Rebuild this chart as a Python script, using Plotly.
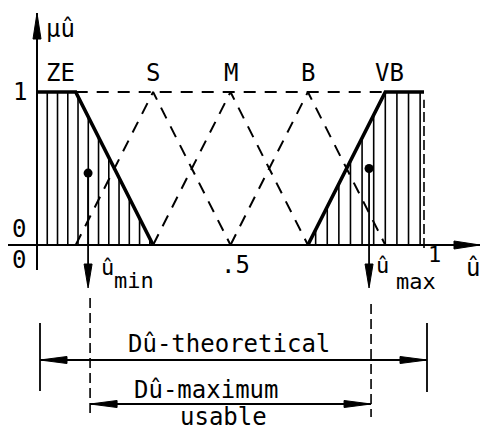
import plotly.graph_objects as go

# Fuzzy sets of the normalised output û
set_names = ["ZE", "S", "M", "B", "VB"]
ze_x = [0.0, 0.1, 0.3]
ze_mu = [1.0, 1.0, 0.0]
vb_x = [0.7, 0.9, 1.0]
vb_mu = [0.0, 1.0, 1.0]
tri_peaks = [0.3, 0.5, 0.7]          # S, M, B
tri_half_width = 0.2
label_x = [0.06, 0.3, 0.5, 0.7, 0.91]

# Centroids of the outer sets -> usable output range
u_min, mu_min = 0.132, 0.47
u_max, mu_max = 0.858, 0.50

tick_vals = [0.5, 1.0]
tick_text = [".5", "1"]

# ---- canvas / scale -------------------------------------------------------
W, H = 481, 429
SX, SY = 387.0, 153.0        # pixels per unit on x and y
OX, OY = 37.0, 245.0         # pixel position of the origin
x_range = [-OX / SX, (W - OX) / SX]
y_range = [-(H - OY) / SY, OY / SY]

FONT = "DejaVu Sans Mono"
BLACK = "black"

fig = go.Figure()


def line(xs, ys, width=2.0, dash=None, color=BLACK):
    fig.add_trace(go.Scatter(
        x=xs, y=ys, mode="lines",
        line=dict(color=color, width=width, dash=dash),
        hoverinfo="skip", showlegend=False))


def arrowhead(x, y, direction, length=24, width=7):
    """Filled triangular arrowhead with its tip at (x, y)."""
    L = length
    w = width / 2.0
    if direction == "down":
        xs = [x, x - w / SX, x + w / SX, x]
        ys = [y, y + L / SY, y + L / SY, y]
    elif direction == "up":
        xs = [x, x - w / SX, x + w / SX, x]
        ys = [y, y - L / SY, y - L / SY, y]
    elif direction == "left":
        xs = [x, x + L / SX, x + L / SX, x]
        ys = [y, y + w / SY, y - w / SY, y]
    else:
        xs = [x, x - L / SX, x - L / SX, x]
        ys = [y, y + w / SY, y - w / SY, y]
    fig.add_trace(go.Scatter(
        x=xs, y=ys, mode="lines", fill="toself", fillcolor=BLACK,
        line=dict(color=BLACK, width=1),
        hoverinfo="skip", showlegend=False))


def mu_ze(x):
    if x <= ze_x[1]:
        return 1.0
    return max(0.0, (ze_x[2] - x) / (ze_x[2] - ze_x[1]))


def mu_vb(x):
    if x >= vb_x[1]:
        return 1.0
    return max(0.0, (x - vb_x[0]) / (vb_x[1] - vb_x[0]))


# ---- hatching under ZE and VB --------------------------------------------
hx, hy = [], []
k = 1
while k * 0.0265 < ze_x[2]:
    xv = k * 0.0265
    hx += [xv, xv, None]
    hy += [0, mu_ze(xv), None]
    k += 1
k = 0
while 0.99 - k * 0.03 > vb_x[0]:
    xv = 0.99 - k * 0.03
    hx += [xv, xv, None]
    hy += [0, mu_vb(xv), None]
    k += 1
line(hx, hy, width=1.6)
# broken edge of the hatched VB area
line([vb_x[2], vb_x[2]], [-0.02, 0.95], width=1.6, dash="10px,4px")

# ---- dashed triangles S, M, B and the dashed top line ------------------
tx, ty = [], []
for p in tri_peaks:
    tx += [p - tri_half_width, p, p + tri_half_width, None]
    ty += [0, 1, 0, None]
line(tx, ty, width=2.0, dash="12px,9px")
line([ze_x[1], vb_x[1]], [1, 1], width=2.0, dash="12px,9px")

# ---- outer sets ZE and VB (bold) ----------------------------------------
line(ze_x, ze_mu, width=3.6)
line(vb_x, vb_mu, width=3.6)

# ---- axes ----------------------------------------------------------------
line([0, 0], [-25 / SY, (OY - 13) / SY], width=2.0)
arrowhead(0, (OY - 13) / SY, "up", length=26, width=8)
line([-29 / SX, (480 - OX) / SX], [0, 0], width=2.0)
arrowhead((480 - OX) / SX, 0, "right", length=26, width=8)

# ---- û_min / û_max markers ----------------------------------------------
for u, m in [(u_min, mu_min), (u_max, mu_max)]:
    line([u, u], [m, -40 / SY], width=1.8)
    arrowhead(u, -43 / SY, "down", length=24, width=8)
    fig.add_trace(go.Scatter(
        x=[u], y=[m], mode="markers",
        marker=dict(color=BLACK, size=9),
        hoverinfo="skip", showlegend=False))

# ---- range dimensions -------------------------------------------------------
y_theo = -(360 - OY) / SY
y_use = -(404 - OY) / SY
off = 3 / SX
x_lo, x_hi = 0 + off, 1 + off
line([x_lo, x_lo], [-(323 - OY) / SY, -(391 - OY) / SY], width=1.8)
line([x_hi, x_hi], [-(323 - OY) / SY, -(392 - OY) / SY], width=1.8)
line([x_lo, x_hi], [y_theo, y_theo], width=1.8)
arrowhead(x_lo, y_theo, "left", length=27, width=7)
arrowhead(x_hi, y_theo, "right", length=27, width=7)

ux_lo, ux_hi = u_min + 2 / SX, u_max + 2 / SX
line([ux_lo, ux_lo], [-(298 - OY) / SY, -(415 - OY) / SY], width=1.6, dash="10px,5px")
line([ux_hi, ux_hi], [-(304 - OY) / SY, -(417 - OY) / SY], width=1.6, dash="10px,5px")
line([ux_lo, ux_hi], [y_use, y_use], width=1.8)
arrowhead(ux_lo, y_use, "left", length=27, width=7)
arrowhead(ux_hi, y_use, "right", length=27, width=7)

# ---- text ------------------------------------------------------------------
ann = []


def text(x, y, s, size=24, yanchor="middle", yshift=0):
    ann.append(dict(x=x, y=y, xref="x", yref="y", text=s, showarrow=False,
                    xanchor="center", yanchor=yanchor, yshift=yshift,
                    font=dict(family=FONT, size=size, color=BLACK)))


for name, lx in zip(set_names, label_x):
    text(lx, 1.124, name)
text(-0.044, 1.0, "1")
text(-0.047, 0.105, "0")
text(-0.047, -0.098, "0")
text(tick_vals[0] + 0.014, -0.13, tick_text[0])
text(tick_vals[1] + 0.028, -0.06, tick_text[1], size=22)
text(1.127, -0.15, "û")
text(0.062, 1.41, "μû")
text(u_min + 0.049, -0.15, "û", size=22)
text(u_min + 0.119, -0.232, "min", size=22)
text(u_max + 0.036, -0.137, "û", size=22)
text(u_max + 0.122, -0.24, "max", size=22)
text(0.496, -0.647, "Dû-theoretical")
text(0.437, -0.948, "Dû-maximum")
text(0.481, -(420 - OY) / SY, "usable", size=24, yanchor="bottom", yshift=-13)

fig.update_layout(
    width=W, height=H,
    margin=dict(l=0, r=0, t=0, b=0),
    paper_bgcolor="white", plot_bgcolor="white",
    xaxis=dict(range=x_range, visible=False, fixedrange=True),
    yaxis=dict(range=y_range, visible=False, fixedrange=True),
    annotations=ann,
    showlegend=False,
)

fig.write_html("out.html")
